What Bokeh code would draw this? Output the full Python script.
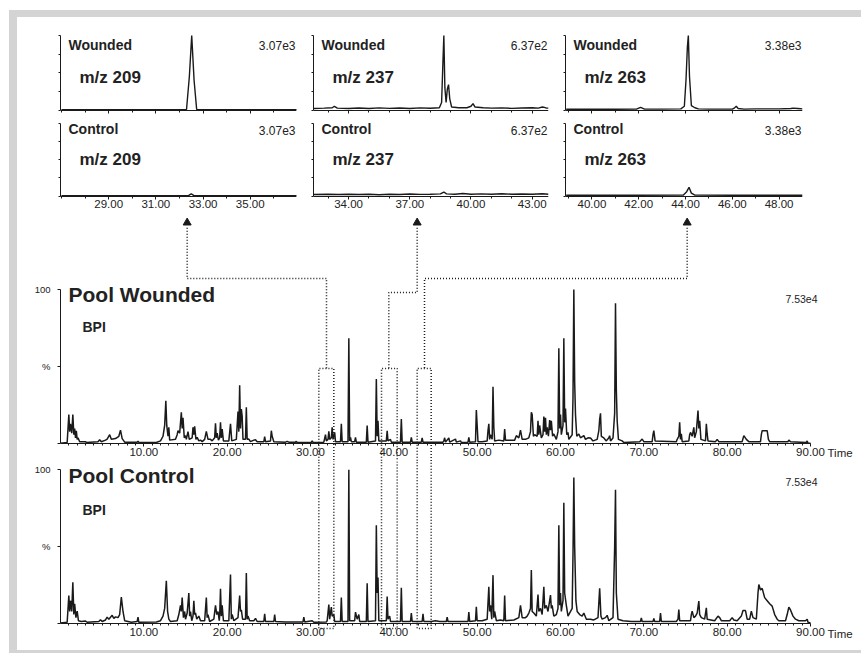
from bokeh.plotting import figure
from bokeh.models import Range1d, FixedTicker, PrintfTickFormatter, Label, Spacer, LinearAxis
from bokeh.layouts import column, row
from bokeh.embed import file_html
from bokeh.resources import INLINE

FONT = "Liberation Sans"
INK = "#1a1a1a"
TXT = "#222222"
GREY = "#d4d4d4"

# ---------------- data (time [min], relative intensity [%]) ----------------
pool_wounded = [
    (0.0, 0.5), (0.8, 1), (1.0, 19), (1.1, 8), (1.2, 13), (1.35, 7), (1.48, 19), (1.6, 6), (1.7, 10), (1.8, 4),
    (1.9, 8.6), (2.0, 3), (2.1, 4), (2.3, 1.5), (3.0, 1.5), (3.1, 1), (4.5, 1.5), (4.7, 2.8), (4.9, 1.5), (5.4, 2.5),
    (5.6, 3.2), (5.9, 6), (6.1, 3), (6.6, 3.5), (7.0, 5), (7.2, 9), (7.4, 3.5), (7.7, 1.2), (9.2, 1.2), (9.3, 1.8),
    (9.4, 1), (11.5, 1), (12.0, 2), (12.3, 5), (12.5, 12), (12.64, 28), (12.75, 12), (12.9, 5), (13.0, 10.8), (13.1, 2.5),
    (13.8, 3), (14.0, 6), (14.1, 8.6), (14.3, 7), (14.5, 20.5), (14.6, 10), (14.7, 17), (14.85, 4), (15.0, 5.4), (15.1, 3),
    (15.3, 8), (15.45, 3), (15.8, 4), (15.9, 10.8), (16.0, 6), (16.1, 11.4), (16.25, 3), (16.4, 4.3), (16.6, 2), (16.8, 2.5),
    (17.0, 1.5), (17.3, 3), (17.5, 8.2), (17.7, 3), (18.0, 3), (18.2, 2), (18.5, 4), (18.6, 13.4), (18.7, 4), (18.8, 7),
    (18.95, 2.5), (19.1, 4), (19.2, 14), (19.3, 4), (19.4, 9.7), (19.55, 2), (20.2, 2), (20.4, 13), (20.55, 2), (21.1, 3),
    (21.3, 21), (21.4, 8), (21.5, 38), (21.6, 10), (21.7, 22.6), (21.8, 18), (21.9, 3), (22.2, 3), (22.3, 23.7), (22.4, 3),
    (22.6, 3.2), (22.8, 1.5), (23.2, 2.5), (23.4, 2.8), (23.6, 1.5), (24.4, 1.5), (24.5, 4.7), (24.6, 1.5), (25.2, 2), (25.3, 8.6),
    (25.4, 5), (25.6, 1.5), (27.0, 1.2), (27.2, 1.7), (27.4, 1.2), (28.2, 1.2), (28.3, 1.7), (28.4, 1), (30.1, 1), (30.2, 2),
    (30.3, 1), (31.6, 1.2), (31.8, 6), (31.9, 2), (32.1, 3), (32.2, 8.2), (32.3, 3), (32.5, 4), (32.6, 10.8), (32.7, 3),
    (32.9, 7.5), (33.0, 1.5), (33.6, 1.5), (33.7, 13), (33.8, 1.5), (34.5, 1.5), (34.6, 68.4), (34.7, 2), (34.8, 4.3), (34.9, 1.5),
    (35.3, 1.5), (35.4, 4.3), (35.5, 1.2), (36.7, 1.2), (36.8, 11.9), (36.9, 1.2), (37.8, 2), (37.9, 42), (38.0, 5), (38.1, 15),
    (38.2, 2), (39.1, 2), (39.2, 8.6), (39.3, 2), (39.6, 3), (39.7, 1.2), (40.8, 1.2), (40.9, 16.2), (41.0, 1.2), (42.0, 1.2),
    (42.1, 4.3), (42.2, 1.2), (43.3, 1.2), (43.4, 3.9), (43.5, 1.2), (45.9, 1.2), (46.0, 2), (46.1, 4), (46.2, 1.2), (46.6, 3.9),
    (46.7, 1.2), (47.4, 3.2), (47.5, 1.2), (48.0, 2), (48.1, 1), (48.9, 1.2), (49.0, 4.3), (49.1, 1.2), (49.8, 1.5), (49.9, 22),
    (50.0, 12), (50.1, 1.5), (50.6, 1.5), (51.2, 2), (51.3, 8.6), (51.4, 13), (51.5, 3), (51.6, 6), (51.8, 3), (51.9, 37),
    (52.0, 10.8), (52.1, 2), (52.6, 2.5), (53.2, 2), (53.3, 9.7), (53.4, 2.5), (53.8, 2.5), (54.5, 2.5), (54.7, 5.4), (55.0, 4),
    (55.2, 9), (55.4, 3), (55.8, 3), (56.2, 4), (56.4, 8), (56.5, 20.5), (56.6, 19), (56.75, 5), (56.9, 6), (57.2, 5),
    (57.3, 15), (57.4, 6), (57.5, 12), (57.7, 4), (57.9, 6), (58.0, 17.7), (58.1, 8), (58.2, 17), (58.3, 6), (58.4, 10.8),
    (58.55, 5), (58.7, 15.5), (58.8, 9), (58.9, 15), (59.05, 5), (59.2, 6.5), (59.5, 3), (59.7, 8), (59.8, 62), (59.9, 10),
    (60.0, 19), (60.1, 6), (60.3, 12), (60.4, 68.4), (60.5, 14), (60.6, 23), (60.75, 6), (60.9, 7.5), (61.0, 3), (61.4, 6),
    (61.5, 30), (61.6, 100), (61.7, 40), (61.8, 19), (61.95, 5), (62.2, 6.5), (62.4, 4), (62.8, 5.4), (63.0, 3), (63.3, 4),
    (63.6, 3.9), (63.9, 2), (64.4, 3), (64.6, 8.6), (64.7, 16), (64.8, 19.8), (64.9, 5), (65.2, 3.9), (65.5, 2), (65.8, 4),
    (65.9, 5.4), (66.0, 2), (66.3, 3.9), (66.5, 20), (66.6, 91), (66.7, 35), (66.8, 15), (66.95, 3), (67.4, 2), (67.6, 1),
    (69.5, 1.5), (69.8, 3.2), (70.0, 1.5), (71.0, 1.5), (71.1, 6), (71.2, 8.6), (71.35, 2), (73.9, 1.5), (74.0, 3), (74.2, 5),
    (74.3, 14), (74.4, 3), (74.5, 6.5), (74.6, 1.5), (75.4, 2), (75.5, 6), (75.6, 7.5), (75.8, 5), (76.0, 10.8), (76.1, 4),
    (76.3, 8), (76.5, 21.6), (76.6, 10), (76.7, 15), (76.85, 3), (77.4, 2), (77.5, 13), (77.6, 6.5), (77.7, 2), (78.6, 1.5),
    (78.8, 3), (79.0, 1.5), (81.8, 1.5), (82.0, 5.4), (82.3, 3), (82.6, 1.5), (84.0, 1.5), (84.1, 6), (84.2, 8.6), (84.5, 8.6),
    (84.8, 8.6), (84.95, 3), (85.1, 1.5), (87.3, 1.5), (87.4, 2.6), (87.6, 1.5), (89.5, 1), (89.6, 2), (89.7, 0.5), (90.0, 0.5),
]

pool_control = [
    (0.0, 0.5), (0.8, 1), (1.0, 18.4), (1.1, 8), (1.2, 15), (1.35, 8), (1.48, 27), (1.6, 6), (1.7, 13), (1.85, 4),
    (2.0, 8.2), (2.15, 2), (2.5, 1.5), (3.0, 1.8), (3.2, 1), (4.6, 1.5), (4.8, 2.6), (5.0, 1.5), (5.4, 2.5), (5.6, 4.3),
    (5.8, 3), (6.0, 4.3), (6.2, 5.5), (6.4, 3.5), (6.6, 4.5), (6.9, 4), (7.1, 6), (7.3, 17.3), (7.5, 8), (7.7, 2),
    (8.5, 1), (9.2, 1.5), (9.3, 4.3), (9.4, 1), (11.5, 1.2), (12.0, 2), (12.3, 5), (12.5, 10), (12.7, 28), (12.85, 8),
    (13.0, 3), (13.2, 1.5), (14.0, 2), (14.2, 6), (14.4, 12), (14.5, 8), (14.6, 17), (14.75, 4), (14.9, 8), (15.0, 3),
    (15.2, 7), (15.4, 20), (15.5, 5), (15.6, 8), (15.75, 2), (15.9, 5), (16.0, 15), (16.1, 6), (16.2, 7), (16.35, 3),
    (16.6, 5), (16.8, 2), (17.3, 2), (17.5, 17), (17.6, 4), (17.7, 6), (17.9, 1.5), (18.4, 3), (18.6, 12), (18.75, 6),
    (18.9, 8), (19.05, 2), (19.1, 5), (19.2, 22.7), (19.3, 5), (19.4, 12), (19.55, 2), (20.2, 2), (20.4, 32), (20.5, 3),
    (20.6, 6), (20.8, 2), (21.3, 4), (21.5, 18.4), (21.6, 8), (21.7, 9), (21.85, 3), (22.2, 3), (22.3, 33), (22.4, 3),
    (22.5, 5), (22.7, 2), (23.2, 2), (23.4, 3.5), (23.6, 1.5), (24.4, 1.5), (24.5, 6.5), (24.6, 1.5), (25.6, 1.5), (25.7, 6),
    (25.8, 1.5), (27.0, 1.2), (28.5, 1.2), (29.1, 1.2), (29.2, 4.3), (29.3, 1.2), (30.2, 2), (30.4, 1), (31.9, 1.2), (32.0, 2),
    (32.2, 12.5), (32.3, 3), (32.5, 10.8), (32.6, 5), (32.8, 6), (32.9, 1.5), (33.6, 1.5), (33.7, 17), (33.8, 1.5), (34.5, 1.5),
    (34.6, 100), (34.7, 2), (35.3, 2), (35.4, 7.6), (35.6, 3), (35.8, 6), (35.9, 1.5), (36.7, 1.5), (36.8, 26.4), (36.9, 1.5),
    (37.8, 2), (37.9, 64), (38.0, 20), (38.1, 30), (38.2, 2), (39.1, 2), (39.2, 17.7), (39.3, 3), (39.5, 5), (39.6, 1.5),
    (40.8, 1.5), (40.9, 23.4), (41.0, 1.5), (42.0, 1.5), (42.1, 7), (42.2, 1.5), (43.4, 1.5), (43.5, 6.5), (43.6, 1.5), (44.5, 1.5),
    (45.0, 2), (45.5, 1.5), (46.3, 1.5), (46.4, 4.3), (46.5, 1.5), (48.9, 1.5), (49.0, 7.6), (49.1, 1.5), (49.8, 2), (49.9, 11),
    (50.0, 2), (50.6, 2), (51.2, 3), (51.4, 24), (51.5, 8), (51.6, 12), (51.75, 3), (51.9, 31.6), (52.0, 4), (52.1, 8),
    (52.3, 2), (52.8, 2.5), (53.2, 2), (53.3, 18.4), (53.4, 2), (54.4, 2.5), (55.0, 4), (55.2, 12), (55.4, 4), (55.8, 4),
    (56.0, 5), (56.2, 7), (56.4, 10), (56.5, 35), (56.6, 8), (56.8, 7), (57.1, 5), (57.3, 19), (57.4, 8), (57.6, 10),
    (57.8, 6), (58.0, 24), (58.1, 10), (58.3, 12), (58.5, 8), (58.8, 18.6), (58.9, 10), (59.0, 12), (59.2, 5), (59.5, 6),
    (59.7, 10), (59.8, 64), (59.9, 12), (60.0, 20), (60.1, 8), (60.3, 15), (60.4, 78.6), (60.5, 20), (60.7, 12), (60.9, 5),
    (61.4, 10), (61.5, 45), (61.6, 95), (61.7, 50), (61.85, 15), (62.0, 8), (62.3, 6), (62.6, 5), (62.8, 7), (63.1, 3),
    (63.6, 3), (64.0, 2.5), (64.5, 4), (64.7, 23), (64.85, 5), (65.0, 3), (65.4, 4), (65.6, 5.5), (65.8, 2), (66.3, 4),
    (66.5, 50), (66.6, 87), (66.7, 20), (66.9, 3), (67.5, 2), (68.5, 1.5), (69.6, 1.5), (69.7, 3.9), (69.8, 1.5), (71.1, 1.5),
    (71.2, 3.5), (71.3, 1.5), (71.9, 1.5), (72.0, 7), (72.1, 1.5), (73.9, 1.5), (74.1, 3), (74.2, 9.3), (74.3, 2), (75.6, 2),
    (75.7, 6), (75.8, 8.2), (76.0, 4), (76.2, 5), (76.4, 7), (76.6, 14.7), (76.7, 6), (76.9, 4), (77.3, 3), (77.5, 10.4),
    (77.6, 3), (78.5, 2), (78.9, 5), (79.1, 4), (79.3, 2), (80.3, 2), (80.6, 4), (80.8, 2.5), (81.2, 2), (81.7, 5),
    (81.9, 8.6), (82.2, 8.6), (82.4, 3), (82.7, 3), (82.9, 8.2), (83.1, 4), (83.5, 3), (83.7, 20), (83.8, 25.5), (84.0, 22),
    (84.2, 23), (84.5, 17), (84.8, 15), (85.1, 13), (85.4, 11.5), (85.7, 6), (86.0, 3), (86.2, 2), (87.0, 2), (87.2, 6),
    (87.4, 10.8), (87.6, 9), (87.9, 5), (88.2, 3), (88.6, 2), (89.4, 2), (89.6, 3), (89.7, 1), (90.0, 0.5),
]

mz209_wounded = [(27.0, 0.5), (29.0, 0.5), (31.0, 0.5), (32.3, 0.6), (32.42, 45), (32.52, 100), (32.62, 40),
                 (32.73, 0.6), (34.0, 0.5), (37.0, 0.5)]
mz209_control = [(27.0, 0.5), (32.38, 0.5), (32.5, 3), (32.62, 0.5), (37.0, 0.5)]

mz237_wounded = [(32.3, 2), (32.8, 2.5), (33.2, 3), (33.3, 5), (33.45, 2.5), (34.0, 2), (34.5, 2.6), (35.0, 2),
                 (35.5, 2.8), (36.0, 2.2), (36.5, 2.6), (37.0, 2), (37.5, 2.8), (38.0, 2.4), (38.45, 3), (38.56, 10),
                 (38.62, 60), (38.67, 100), (38.72, 30), (38.78, 10), (38.84, 28), (38.9, 34), (38.96, 15), (39.05, 4),
                 (39.4, 3), (39.8, 3), (40.0, 5), (40.1, 8.6), (40.2, 4), (40.6, 3), (41.0, 2.5), (41.5, 2.8),
                 (42.0, 2.2), (42.5, 2.6), (43.0, 3), (43.3, 2.5), (43.5, 4), (43.6, 3.5), (43.7, 2.5), (43.8, 2.5)]
mz237_control = [(32.3, 2), (33.0, 2.5), (33.5, 2), (34.0, 2.5), (34.5, 2), (35.0, 2.5), (35.5, 1.8), (36.0, 2.5),
                 (36.5, 2), (37.0, 2.8), (37.5, 2.2), (38.0, 2.5), (38.5, 3), (38.67, 5.5), (38.8, 3), (39.2, 2.5),
                 (39.6, 3.5), (40.0, 2.5), (40.5, 3), (41.0, 2.5), (41.5, 3.2), (42.0, 2.5), (42.5, 2.8), (43.0, 2.5),
                 (43.5, 3.2), (43.8, 2.5)]

mz263_wounded = [(38.9, 1), (40.0, 1.2), (41.0, 1), (41.9, 1.2), (42.08, 3.5), (42.25, 1.2), (43.0, 1.2), (43.8, 1.5),
                 (43.95, 5), (44.02, 40), (44.08, 85), (44.12, 100), (44.17, 45), (44.25, 6), (44.4, 3), (44.55, 1.5),
                 (45.0, 1.2), (46.0, 1.2), (46.1, 3), (46.17, 5), (46.25, 2), (46.5, 1.2), (47.0, 1.5), (48.0, 1.5),
                 (48.5, 2), (48.6, 2.5), (48.8, 2), (49.0, 1.5)]
mz263_control = [(38.9, 1), (40.0, 1), (42.0, 1), (43.9, 1.2), (44.05, 6), (44.15, 12), (44.25, 4), (44.4, 1.2),
                 (46.0, 1), (49.0, 1)]

panel_mz = ["m/z 209", "m/z 237", "m/z 263"]
panel_scale = ["3.07e3", "6.37e2", "3.38e3"]
panel_ticks = [[29, 31, 33, 35], [34, 37, 40, 43], [40, 42, 44, 46, 48]]
panel_minor = [list(range(27, 37)), list(range(33, 44)), list(range(39, 49))]
panel_xrange = [(26.96, 36.96), (32.28, 43.8), (38.87, 49.0)]
panel_traces = [(mz209_wounded, mz209_control), (mz237_wounded, mz237_control), (mz263_wounded, mz263_control)]

big_ticks = [10, 20, 30, 40, 50, 60, 70, 80, 90]
big_minor = list(range(1, 90))
bpi_scale = "7.53e4"

# connectors (big-plot time units)
arrow_x = [15.2, 42.8, 75.2]
elbow_x = [31.92, 39.4, 43.68]
elbow_y = [107.1, 98.1, 107.1]
box_left = [31.0, 38.52, 42.8]
box_right = [32.8, 40.4, 44.48]


def base_fig(xr, yr, fw, fh, bl, br):
    p = figure(frame_width=fw, frame_height=fh, x_range=Range1d(*xr), y_range=Range1d(*yr),
               x_axis_location=None, y_axis_location=None, toolbar_location=None,
               output_backend="svg", min_border_left=bl, min_border_right=br,
               min_border_top=0, min_border_bottom=0)
    p.outline_line_color = None
    p.xgrid.visible = False
    p.ygrid.visible = False
    p.background_fill_color = "white"
    p.border_fill_color = "white"
    return p


def add_x_axis(p, ticks, minor, labels=True, bounds="auto"):
    ax = LinearAxis(fixed_location=0, ticker=FixedTicker(ticks=ticks, minor_ticks=minor),
                    formatter=PrintfTickFormatter(format="%.2f"), bounds=bounds)
    ax.axis_line_color = INK
    ax.axis_line_width = 1
    ax.major_tick_line_color = INK
    ax.major_tick_in = 0
    ax.major_tick_out = 3
    ax.minor_tick_line_color = INK
    ax.minor_tick_in = 0
    ax.minor_tick_out = 2
    ax.major_label_standoff = 1
    ax.major_label_text_font = FONT
    ax.major_label_text_font_size = "11.5px"
    ax.major_label_text_color = TXT
    if not labels:
        ax.major_label_overrides = {t: "" for t in ticks}
    p.add_layout(ax, "below")


def add_y_axis(p, ticks, overrides, size="9px", standoff=0, tick_out=2):
    ax = LinearAxis(bounds=(0, 100), ticker=FixedTicker(ticks=ticks, minor_ticks=[]),
                    major_label_overrides=overrides)
    ax.axis_line_color = INK
    ax.axis_line_width = 1
    ax.major_tick_line_color = INK
    ax.major_tick_in = 0
    ax.major_tick_out = tick_out
    ax.major_label_standoff = standoff
    ax.major_label_text_font = FONT
    ax.major_label_text_font_size = size
    ax.major_label_text_color = TXT
    p.add_layout(ax, "left")


def add_label(p, x, y, text, size, bold=False, align="left", x_offset=0):
    p.add_layout(Label(x=x, y=y, text=text, x_offset=x_offset, text_align=align, text_baseline="middle",
                       text_font=FONT, text_font_size=size,
                       text_font_style="bold" if bold else "normal", text_color=TXT))


def grey_box(w, h):
    return Spacer(width=w, height=h, styles={"background-color": GREY})


# ---------------- top panels ----------------
frame_w = [236, 235, 237]
border_l = [43, 9, 9]
border_r = [8, 8, 59]
cols = []
for i in range(3):
    xr = panel_xrange[i]
    wt, ct = panel_traces[i]
    small_ticks = [0, 25, 50, 75, 100]
    # Wounded
    pw = base_fig(xr, (-8.72, 124.2), frame_w[i], 99, border_l[i], border_r[i])
    add_x_axis(pw, panel_ticks[i], panel_minor[i], labels=False)
    add_y_axis(pw, small_ticks, {t: "" for t in small_ticks})
    pw.line([a for a, b in wt], [b for a, b in wt], line_color=INK, line_width=1.4)
    add_label(pw, xr[0], 87.9, "Wounded", "14px", bold=True, x_offset=8)
    add_label(pw, xr[0], 44.0, panel_mz[i], "17px", bold=True, x_offset=19)
    add_label(pw, xr[1], 86.6, panel_scale[i], "12px", align="right", x_offset=-1)
    # Control
    pc = base_fig(xr, (-25.5, 109.7), frame_w[i], 98, border_l[i], border_r[i])
    add_x_axis(pc, panel_ticks[i], panel_minor[i], labels=True)
    add_y_axis(pc, small_ticks, {t: "" for t in small_ticks})
    pc.line([a for a, b in ct], [b for a, b in ct], line_color=INK, line_width=1.4)
    add_label(pc, xr[0], 92.4, "Control", "14px", bold=True, x_offset=8)
    add_label(pc, xr[0], 49.7, panel_mz[i], "17px", bold=True, x_offset=19)
    add_label(pc, xr[1], 90.3, panel_scale[i], "12px", align="right", x_offset=-1)
    cols.append(column(pw, pc))

top_row = row(*cols)

# ---------------- big BPI chromatograms ----------------
DASH = "1 2"
BIG_X = (0, 96.12)

bw = base_fig(BIG_X, (-11.33, 148.5), 801, 247, 43, 0)
add_x_axis(bw, big_ticks, big_minor, bounds=(0, 90))
add_y_axis(bw, [0, 50, 100], {0: "", 50: "%", 100: "100"}, size="9.5px", standoff=7, tick_out=3)
bw.line([a for a, b in pool_wounded], [b for a, b in pool_wounded], line_color=INK, line_width=1.5)
# connectors from the extracted-ion panels
bw.multi_line([[x, x, ex, ex] for x, ex in zip(arrow_x, elbow_x)],
              [[140, ey, ey, 48.9] for ey in elbow_y],
              line_color=INK, line_width=1.5, line_dash=DASH)
bw.multi_line([[l, l, r, r] for l, r in zip(box_left, box_right)],
              [[-40, 48.9, 48.9, -40] for _ in box_left],
              line_color=INK, line_width=1.5, line_dash=DASH)
bw.scatter(arrow_x, [143.2] * len(arrow_x), marker="triangle", size=8, color=INK)
add_label(bw, 0, 96.8, "Pool Wounded", "21px", bold=True, x_offset=8)
add_label(bw, 0, 75.4, "BPI", "14px", bold=True, x_offset=22)
add_label(bw, 90, 93.5, bpi_scale, "10.5px", align="right", x_offset=7)
add_label(bw, 90, -6.0, "Time", "11.5px", x_offset=17)

bc = base_fig(BIG_X, (-17.34, 105.4), 801, 189, 43, 0)
add_x_axis(bc, big_ticks, big_minor, bounds=(0, 90))
add_y_axis(bc, [0, 50, 100], {0: "", 50: "%", 100: "100"}, size="9.5px", standoff=7, tick_out=3)
bc.line([a for a, b in pool_control], [b for a, b in pool_control], line_color=INK, line_width=1.5)
bc.multi_line([[l, l, r, r] for l, r in zip(box_left, box_right)],
              [[140, -3.05, -3.05, 140] for _ in box_left],
              line_color=INK, line_width=1.5, line_dash=DASH)
add_label(bc, 0, 96.3, "Pool Control", "21px", bold=True, x_offset=8)
add_label(bc, 0, 73.6, "BPI", "14px", bold=True, x_offset=22)
add_label(bc, 90, 91.9, bpi_scale, "10.5px", align="right", x_offset=7)
add_label(bc, 90, -6.5, "Time", "11.5px", x_offset=17)

content = column(top_row, bw, bc)
framed = column(grey_box(852, 7),
                row(grey_box(8, 633), content),
                grey_box(852, 3))
p = column(Spacer(width=861, height=10),
           row(Spacer(width=9, height=643), framed))

open("out.html", "w").write(file_html(p, INLINE))
